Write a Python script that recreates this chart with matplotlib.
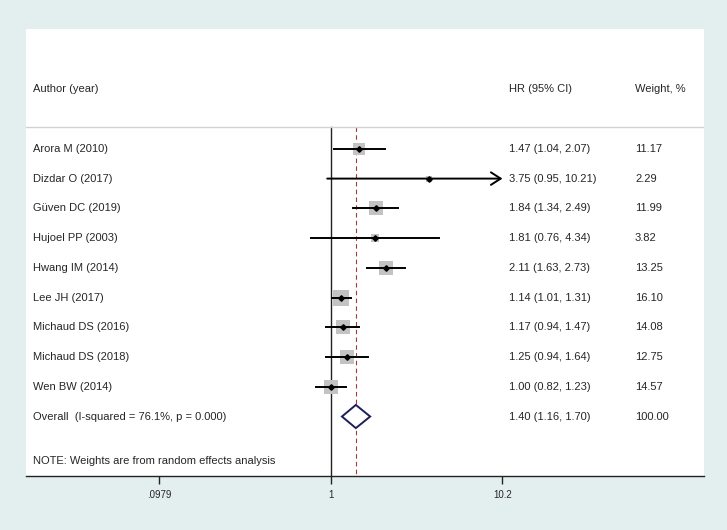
import matplotlib.pyplot as plt
import matplotlib.transforms as mtransforms

plt.rcParams["font.family"] = ["Liberation Sans", "DejaVu Sans"]

studies = ["Arora M (2010)", "Dizdar O (2017)", "Güven DC (2019)", "Hujoel PP (2003)",
           "Hwang IM (2014)", "Lee JH (2017)", "Michaud DS (2016)", "Michaud DS (2018)",
           "Wen BW (2014)"]
hr = [1.47, 3.75, 1.84, 1.81, 2.11, 1.14, 1.17, 1.25, 1.00]
lo = [1.04, 0.95, 1.34, 0.76, 1.63, 1.01, 0.94, 0.94, 0.82]
hi = [2.07, 10.21, 2.49, 4.34, 2.73, 1.31, 1.47, 1.64, 1.23]
weights = [11.17, 2.29, 11.99, 3.82, 13.25, 16.10, 14.08, 12.75, 14.57]

overall_label = "Overall  (I-squared = 76.1%, p = 0.000)"
overall = (1.40, 1.16, 1.70)
overall_weight = "100.00"
note = "NOTE: Weights are from random effects analysis"
xticks = [0.0979, 1, 10.2]
xtick_labels = [".0979", "1", "10.2"]

BG = "#e3efef"
TXT = "#262626"

fig = plt.figure(figsize=(7.27, 5.30), dpi=100, facecolor=BG)
ax = fig.add_axes([26 / 727, 54 / 530, 678 / 727, 447 / 530])
ax.set_facecolor("white")
ax.set_xscale("log")
ax.set_xlim(10 ** ((26 - 331) / 170), 10 ** ((704 - 331) / 170))
ax.set_ylim(11, -4.03)

for s in ("top", "left", "right"):
    ax.spines[s].set_visible(False)
ax.spines["bottom"].set_color("#222222")
ax.spines["bottom"].set_linewidth(1.0)
ax.set_yticks([])
ax.set_xticks(xticks)
ax.set_xticklabels(xtick_labels)
ax.minorticks_off()
ax.tick_params(axis="x", length=6, width=1, color="#222222", labelsize=7,
               labelcolor=TXT, pad=4)

trans = mtransforms.blended_transform_factory(ax.transAxes, ax.transData)
x_name, x_hr, x_w = 7 / 678, 483 / 678, 609 / 678
fs = 8

# header and separator
ax.text(x_name, -2, "Author (year)", transform=trans, fontsize=fs, color=TXT, va="center")
ax.text(x_hr, -2, "HR (95% CI)", transform=trans, fontsize=fs, color=TXT, va="center")
ax.text(x_w, -2, "Weight, %", transform=trans, fontsize=fs, color=TXT, va="center")
ax.axhline(-0.75, color="#d2d2d2", lw=1)

# reference lines
ax.plot([1, 1], [-0.75, 11], color="#222222", lw=1, zorder=1)
ax.plot([overall[0]] * 2, [-0.75, 11], color="#a33a3a", lw=0.8,
        ls=(0, (4, 3)), zorder=1)

xmax = xticks[-1]
for i, (name, h, l, u, w) in enumerate(zip(studies, hr, lo, hi, weights)):
    ax.scatter(h, i, s=7.6 * w, marker="s", color="#c3c3c3", lw=0, zorder=2)
    if u > xmax:
        ax.annotate("", xy=(xmax, i), xytext=(l, i),
                    arrowprops=dict(arrowstyle="->,head_length=0.7,head_width=0.45",
                                    lw=1.4, color="black", shrinkA=0, shrinkB=0),
                    zorder=3)
    else:
        ax.plot([l, u], [i, i], color="black", lw=1.4, zorder=3)
    ax.plot(h, i, marker="D", ms=2.8, color="black", zorder=4)
    ax.text(x_name, i, name, transform=trans, fontsize=fs, color=TXT, va="center")
    ax.text(x_hr, i, f"{h:.2f} ({l:.2f}, {u:.2f})", transform=trans, fontsize=fs,
            color=TXT, va="center")
    ax.text(x_w, i, f"{w:.2f}", transform=trans, fontsize=fs, color=TXT, va="center")

# overall diamond
yo = len(studies)
est, olo, ohi = overall
ax.fill([olo, est, ohi, est, olo], [yo, yo - 0.39, yo, yo + 0.39, yo],
        facecolor="white", edgecolor="#1e1e5a", lw=1.4, zorder=3)
ax.text(x_name, yo, overall_label, transform=trans, fontsize=fs, color=TXT, va="center")
ax.text(x_hr, yo, f"{est:.2f} ({olo:.2f}, {ohi:.2f})", transform=trans, fontsize=fs,
        color=TXT, va="center")
ax.text(x_w, yo, overall_weight, transform=trans, fontsize=fs, color=TXT, va="center")

ax.text(x_name, yo + 1.5, note, transform=trans, fontsize=fs, color=TXT, va="center")

fig.savefig("out.png", dpi=100, facecolor=BG)
